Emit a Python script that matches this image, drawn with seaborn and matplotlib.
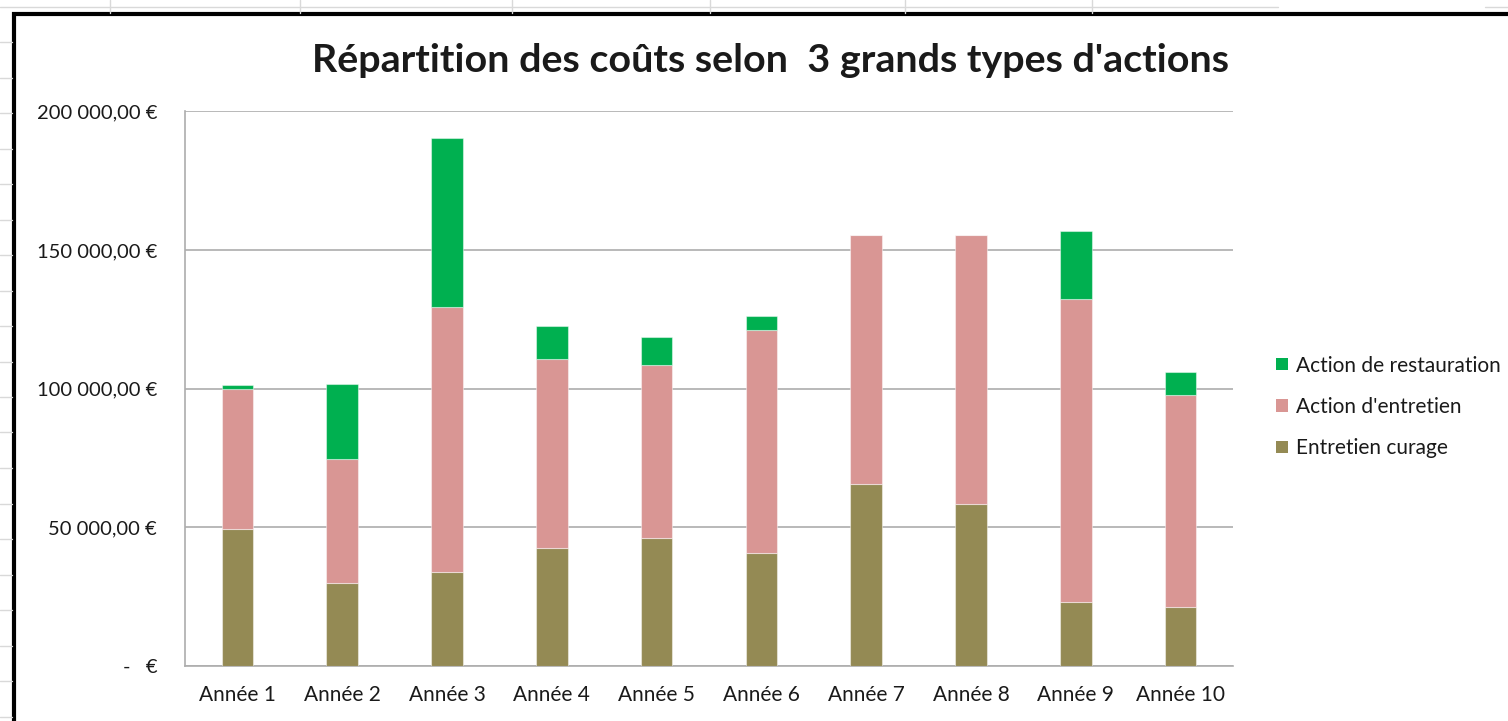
import matplotlib.pyplot as plt
import numpy as np
import seaborn as sns
from matplotlib.patches import Patch, Rectangle
from matplotlib.lines import Line2D

# Valeurs (en euros)
annees = ["Année 1", "Année 2", "Année 3", "Année 4", "Année 5",
          "Année 6", "Année 7", "Année 8", "Année 9", "Année 10"]
entretien_curage = [49400, 29800, 33700, 42600, 46000, 40600, 65600, 58300, 23000, 21200]
action_entretien = [50600, 44900, 95800, 68200, 62400, 80600, 89700, 97000, 109300, 76500]
action_restauration = [1200, 27000, 60800, 11800, 10300, 5000, 0, 0, 24400, 8200]

y_ticks = [0, 50000, 100000, 150000, 200000]
y_labels = ["-   €", "50 000,00 €", "100 000,00 €", "150 000,00 €", "200 000,00 €"]

series = [
    ("Entretien curage", entretien_curage, "#948A54"),
    ("Action d'entretien", action_entretien, "#D99694"),
    ("Action de restauration", action_restauration, "#00B050"),
]

sns.set_style("white")
plt.rcParams["font.family"] = ["Lato", "DejaVu Sans"]

W, H = 1508, 721
fig = plt.figure(figsize=(W / 100, H / 100), dpi=100)

# fond de tableur : quadrillage clair autour du cadre du graphique
grid_col = "#D9D9D9"
for xv in [110, 300, 512, 710, 905, 1092]:
    fig.add_artist(Line2D([xv / W, xv / W], [1, 1 - 13 / H], color=grid_col, lw=1))
fig.add_artist(Line2D([0, 1278 / W], [1 - 7 / H, 1 - 7 / H], color=grid_col, lw=1))
fig.add_artist(Line2D([1485 / W, 1], [1 - 7 / H, 1 - 7 / H], color=grid_col, lw=1))
for yv in np.arange(42, H, 35.5):
    fig.add_artist(Line2D([0, 12 / W], [1 - yv / H, 1 - yv / H], color=grid_col, lw=1))

# cadre noir du graphique
fig.add_artist(Rectangle((14 / W, -0.1), 1.2, 1 - 14 / H + 0.1, transform=fig.transFigure,
                         facecolor="white", edgecolor="black", lw=3, zorder=0))

ax = fig.add_axes([185 / W, 1 - 665.8 / H, (1233 - 185) / W, (665.8 - 111.3) / H])
ax.set_facecolor("none")

bottom = np.zeros(len(annees))
for label, values, color in series:
    sns.barplot(x=annees, y=values, color=color, width=0.3, ax=ax,
                bottom=bottom.copy(), edgecolor=(1, 1, 1, 0.45), linewidth=0.8,
                zorder=3, saturation=1)
    bottom = bottom + np.array(values)

ax.set_ylim(0, 200000)
ax.set_xlim(-0.5, 9.5)
ax.set_yticks(y_ticks)
ax.set_yticklabels(y_labels)
ax.yaxis.grid(True, color="#ADADAD", lw=1.2, zorder=0)
ax.xaxis.grid(False)
ax.set_axisbelow(True)
for side in ["top", "right"]:
    ax.spines[side].set_visible(False)
for side in ["left", "bottom"]:
    ax.spines[side].set_color("#ADADAD")
    ax.spines[side].set_linewidth(1.2)
ax.tick_params(axis="y", length=0, pad=20, labelsize=14.5, labelcolor="#1a1a1a")
ax.tick_params(axis="x", length=0, pad=14, labelsize=15, labelcolor="#1a1a1a")
ax.set_xlabel("")
ax.set_ylabel("")

fig.text(771 / W, 1 - 60 / H, "Répartition des coûts selon  3 grands types d'actions",
         ha="center", va="center", fontsize=28.4, fontweight="bold", color="#1a1a1a")

handles = [Patch(facecolor=c, edgecolor="none", label=l) for l, _, c in reversed(series)]
fig.legend(handles=handles, loc="center left", bbox_to_anchor=(1266 / W, 1 - 407 / H),
           frameon=False, fontsize=15, handlelength=0.55, handleheight=0.55,
           handletextpad=0.4, labelspacing=1.03, borderpad=0, labelcolor="#1a1a1a")

fig.savefig("out.png", dpi=100)
